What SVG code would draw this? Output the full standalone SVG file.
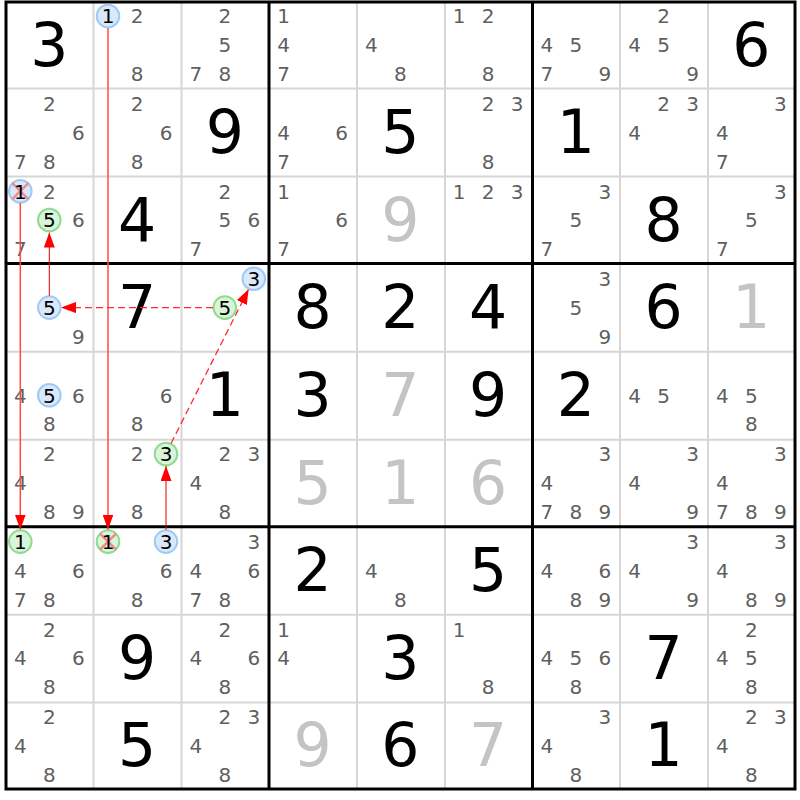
<svg xmlns="http://www.w3.org/2000/svg" width="800" height="800" viewBox="0 0 800 800">
<style>
.bg{fill:#ffffff}
.thin{stroke:#d6d6d6;stroke-width:2;fill:none}
.thick{stroke:#000000;stroke-width:3;fill:none}
text{font-family:"DejaVu Sans","Liberation Sans",sans-serif;text-anchor:middle}
.c{font-size:20px;fill:#5f5f5f}
.cc{font-size:20px;fill:#000000}
.g{font-size:60px;fill:#000000}
.s{font-size:60px;fill:#c4c4c4}
.blue{fill:#d9e9fb;stroke:#9fcaf6;stroke-width:2}
.green{fill:#d9f5d9;stroke:#8fdb8f;stroke-width:2}
.x{stroke:#f28a8a;stroke-width:2.5}
.strong{stroke:#ff4a4a;stroke-width:1.5;fill:none}
.strong1{stroke:#e00000;stroke-width:1;fill:none}
.weak{stroke:#ff2a2a;stroke-width:1.3;fill:none;stroke-dasharray:7 4}
</style>
<defs>
<marker id="ah" markerUnits="userSpaceOnUse" markerWidth="15" markerHeight="11" refX="15" refY="5.5" orient="auto">
<path d="M0,0 L15,5.5 L0,11 Z" fill="#ff0000"/>
</marker>
</defs>
<rect class="bg" x="0" y="0" width="800" height="800"/>
<g id="grid">
<path class="thin" d="M93.5,2V789 M181.5,2V789 M357,2V789 M445,2V789 M620,2V789 M708,2V789 M6,88.5H795 M6,176.5H795 M6,351.8H795 M6,439.8H795 M6,614.8H795 M6,702.5H795"/>
<path class="thick" d="M269,2V789 M532.5,2V789 M6,263.5H795 M6,526.8H795"/>
<rect class="thick" x="6" y="2" width="789" height="787"/>
</g>
<g id="r1c1"><text class="g" x="49.3" y="65.6">3</text></g>
<g id="r1c2"><circle class="blue" cx="108" cy="16" r="11.3"/><text class="cc" x="108" y="23.3">1</text><text class="c" x="137" y="23.3">2</text><text class="c" x="137" y="80.9">8</text></g>
<g id="r1c3"><text class="c" x="224.8" y="23.3">2</text><text class="c" x="224.8" y="52.1">5</text><text class="c" x="195.8" y="80.9">7</text><text class="c" x="224.8" y="80.9">8</text></g>
<g id="r1c4"><text class="c" x="283.5" y="23.3">1</text><text class="c" x="283.5" y="52.1">4</text><text class="c" x="283.5" y="80.9">7</text></g>
<g id="r1c5"><text class="c" x="371.3" y="52.1">4</text><text class="c" x="400.3" y="80.9">8</text></g>
<g id="r1c6"><text class="c" x="459" y="23.3">1</text><text class="c" x="488" y="23.3">2</text><text class="c" x="488" y="80.9">8</text></g>
<g id="r1c7"><text class="c" x="546.8" y="52.1">4</text><text class="c" x="575.8" y="52.1">5</text><text class="c" x="546.8" y="80.9">7</text><text class="c" x="604.8" y="80.9">9</text></g>
<g id="r1c8"><text class="c" x="663.5" y="23.3">2</text><text class="c" x="634.5" y="52.1">4</text><text class="c" x="663.5" y="52.1">5</text><text class="c" x="692.5" y="80.9">9</text></g>
<g id="r1c9"><text class="g" x="751.3" y="65.6">6</text></g>

<g id="r2c1"><text class="c" x="49.3" y="110.9">2</text><text class="c" x="78.3" y="139.7">6</text><text class="c" x="20.3" y="168.5">7</text><text class="c" x="49.3" y="168.5">8</text></g>
<g id="r2c2"><text class="c" x="137" y="110.9">2</text><text class="c" x="166" y="139.7">6</text><text class="c" x="137" y="168.5">8</text></g>
<g id="r2c3"><text class="g" x="224.8" y="153.2">9</text></g>
<g id="r2c4"><text class="c" x="283.5" y="139.7">4</text><text class="c" x="341.5" y="139.7">6</text><text class="c" x="283.5" y="168.5">7</text></g>
<g id="r2c5"><text class="g" x="400.3" y="153.2">5</text></g>
<g id="r2c6"><text class="c" x="488" y="110.9">2</text><text class="c" x="517" y="110.9">3</text><text class="c" x="488" y="168.5">8</text></g>
<g id="r2c7"><text class="g" x="575.8" y="153.2">1</text></g>
<g id="r2c8"><text class="c" x="663.5" y="110.9">2</text><text class="c" x="692.5" y="110.9">3</text><text class="c" x="634.5" y="139.7">4</text></g>
<g id="r2c9"><text class="c" x="780.3" y="110.9">3</text><text class="c" x="722.3" y="139.7">4</text><text class="c" x="722.3" y="168.5">7</text></g>

<g id="r3c1"><circle class="blue" cx="20.3" cy="191.2" r="11.3"/><path class="x" d="M12.3,183.2L28.3,199.2M28.3,183.2L12.3,199.2"/><text class="cc" x="20.3" y="198.5">1</text><text class="c" x="49.3" y="198.5">2</text><circle class="green" cx="49.3" cy="220" r="11.3"/><text class="cc" x="49.3" y="227.3">5</text><text class="c" x="78.3" y="227.3">6</text><text class="c" x="20.3" y="256.1">7</text></g>
<g id="r3c2"><text class="g" x="137" y="240.8">4</text></g>
<g id="r3c3"><text class="c" x="224.8" y="198.5">2</text><text class="c" x="224.8" y="227.3">5</text><text class="c" x="253.8" y="227.3">6</text><text class="c" x="195.8" y="256.1">7</text></g>
<g id="r3c4"><text class="c" x="283.5" y="198.5">1</text><text class="c" x="341.5" y="227.3">6</text><text class="c" x="283.5" y="256.1">7</text></g>
<g id="r3c5"><text class="s" x="400.3" y="240.8">9</text></g>
<g id="r3c6"><text class="c" x="459" y="198.5">1</text><text class="c" x="488" y="198.5">2</text><text class="c" x="517" y="198.5">3</text></g>
<g id="r3c7"><text class="c" x="604.8" y="198.5">3</text><text class="c" x="575.8" y="227.3">5</text><text class="c" x="546.8" y="256.1">7</text></g>
<g id="r3c8"><text class="g" x="663.5" y="240.8">8</text></g>
<g id="r3c9"><text class="c" x="780.3" y="198.5">3</text><text class="c" x="751.3" y="227.3">5</text><text class="c" x="722.3" y="256.1">7</text></g>

<g id="r4c1"><circle class="blue" cx="49.3" cy="307.6" r="11.3"/><text class="cc" x="49.3" y="314.9">5</text><text class="c" x="78.3" y="343.7">9</text></g>
<g id="r4c2"><text class="g" x="137" y="328.4">7</text></g>
<g id="r4c3"><circle class="blue" cx="253.8" cy="278.8" r="11.3"/><text class="cc" x="253.8" y="286.1">3</text><circle class="green" cx="224.8" cy="307.6" r="11.3"/><text class="cc" x="224.8" y="314.9">5</text></g>
<g id="r4c4"><text class="g" x="312.5" y="328.4">8</text></g>
<g id="r4c5"><text class="g" x="400.3" y="328.4">2</text></g>
<g id="r4c6"><text class="g" x="488" y="328.4">4</text></g>
<g id="r4c7"><text class="c" x="604.8" y="286.1">3</text><text class="c" x="575.8" y="314.9">5</text><text class="c" x="604.8" y="343.7">9</text></g>
<g id="r4c8"><text class="g" x="663.5" y="328.4">6</text></g>
<g id="r4c9"><text class="s" x="751.3" y="328.4">1</text></g>

<g id="r5c1"><text class="c" x="20.3" y="402.5">4</text><circle class="blue" cx="49.3" cy="395.2" r="11.3"/><text class="cc" x="49.3" y="402.5">5</text><text class="c" x="78.3" y="402.5">6</text><text class="c" x="49.3" y="431.3">8</text></g>
<g id="r5c2"><text class="c" x="166" y="402.5">6</text><text class="c" x="137" y="431.3">8</text></g>
<g id="r5c3"><text class="g" x="224.8" y="416">1</text></g>
<g id="r5c4"><text class="g" x="312.5" y="416">3</text></g>
<g id="r5c5"><text class="s" x="400.3" y="416">7</text></g>
<g id="r5c6"><text class="g" x="488" y="416">9</text></g>
<g id="r5c7"><text class="g" x="575.8" y="416">2</text></g>
<g id="r5c8"><text class="c" x="634.5" y="402.5">4</text><text class="c" x="663.5" y="402.5">5</text></g>
<g id="r5c9"><text class="c" x="722.3" y="402.5">4</text><text class="c" x="751.3" y="402.5">5</text><text class="c" x="751.3" y="431.3">8</text></g>

<g id="r6c1"><text class="c" x="49.3" y="461.3">2</text><text class="c" x="20.3" y="490.1">4</text><text class="c" x="49.3" y="518.9">8</text><text class="c" x="78.3" y="518.9">9</text></g>
<g id="r6c2"><text class="c" x="137" y="461.3">2</text><circle class="green" cx="166" cy="454" r="11.3"/><text class="cc" x="166" y="461.3">3</text><text class="c" x="137" y="518.9">8</text></g>
<g id="r6c3"><text class="c" x="224.8" y="461.3">2</text><text class="c" x="253.8" y="461.3">3</text><text class="c" x="195.8" y="490.1">4</text><text class="c" x="224.8" y="518.9">8</text></g>
<g id="r6c4"><text class="s" x="312.5" y="503.6">5</text></g>
<g id="r6c5"><text class="s" x="400.3" y="503.6">1</text></g>
<g id="r6c6"><text class="s" x="488" y="503.6">6</text></g>
<g id="r6c7"><text class="c" x="604.8" y="461.3">3</text><text class="c" x="546.8" y="490.1">4</text><text class="c" x="546.8" y="518.9">7</text><text class="c" x="575.8" y="518.9">8</text><text class="c" x="604.8" y="518.9">9</text></g>
<g id="r6c8"><text class="c" x="692.5" y="461.3">3</text><text class="c" x="634.5" y="490.1">4</text><text class="c" x="692.5" y="518.9">9</text></g>
<g id="r6c9"><text class="c" x="780.3" y="461.3">3</text><text class="c" x="722.3" y="490.1">4</text><text class="c" x="722.3" y="518.9">7</text><text class="c" x="751.3" y="518.9">8</text><text class="c" x="780.3" y="518.9">9</text></g>

<g id="r7c1"><circle class="green" cx="20.3" cy="541.6" r="11.3"/><text class="cc" x="20.3" y="548.9">1</text><text class="c" x="20.3" y="577.7">4</text><text class="c" x="78.3" y="577.7">6</text><text class="c" x="20.3" y="606.5">7</text><text class="c" x="49.3" y="606.5">8</text></g>
<g id="r7c2"><circle class="green" cx="108" cy="541.6" r="11.3"/><path class="x" d="M100,533.6L116,549.6M116,533.6L100,549.6"/><text class="cc" x="108" y="548.9">1</text><circle class="blue" cx="166" cy="541.6" r="11.3"/><text class="cc" x="166" y="548.9">3</text><text class="c" x="166" y="577.7">6</text><text class="c" x="137" y="606.5">8</text></g>
<g id="r7c3"><text class="c" x="253.8" y="548.9">3</text><text class="c" x="195.8" y="577.7">4</text><text class="c" x="253.8" y="577.7">6</text><text class="c" x="195.8" y="606.5">7</text><text class="c" x="224.8" y="606.5">8</text></g>
<g id="r7c4"><text class="g" x="312.5" y="591.2">2</text></g>
<g id="r7c5"><text class="c" x="371.3" y="577.7">4</text><text class="c" x="400.3" y="606.5">8</text></g>
<g id="r7c6"><text class="g" x="488" y="591.2">5</text></g>
<g id="r7c7"><text class="c" x="546.8" y="577.7">4</text><text class="c" x="604.8" y="577.7">6</text><text class="c" x="575.8" y="606.5">8</text><text class="c" x="604.8" y="606.5">9</text></g>
<g id="r7c8"><text class="c" x="692.5" y="548.9">3</text><text class="c" x="634.5" y="577.7">4</text><text class="c" x="692.5" y="606.5">9</text></g>
<g id="r7c9"><text class="c" x="780.3" y="548.9">3</text><text class="c" x="722.3" y="577.7">4</text><text class="c" x="751.3" y="606.5">8</text><text class="c" x="780.3" y="606.5">9</text></g>

<g id="r8c1"><text class="c" x="49.3" y="636.5">2</text><text class="c" x="20.3" y="665.3">4</text><text class="c" x="78.3" y="665.3">6</text><text class="c" x="49.3" y="694.1">8</text></g>
<g id="r8c2"><text class="g" x="137" y="678.8">9</text></g>
<g id="r8c3"><text class="c" x="224.8" y="636.5">2</text><text class="c" x="195.8" y="665.3">4</text><text class="c" x="253.8" y="665.3">6</text><text class="c" x="224.8" y="694.1">8</text></g>
<g id="r8c4"><text class="c" x="283.5" y="636.5">1</text><text class="c" x="283.5" y="665.3">4</text></g>
<g id="r8c5"><text class="g" x="400.3" y="678.8">3</text></g>
<g id="r8c6"><text class="c" x="459" y="636.5">1</text><text class="c" x="488" y="694.1">8</text></g>
<g id="r8c7"><text class="c" x="546.8" y="665.3">4</text><text class="c" x="575.8" y="665.3">5</text><text class="c" x="604.8" y="665.3">6</text><text class="c" x="575.8" y="694.1">8</text></g>
<g id="r8c8"><text class="g" x="663.5" y="678.8">7</text></g>
<g id="r8c9"><text class="c" x="751.3" y="636.5">2</text><text class="c" x="722.3" y="665.3">4</text><text class="c" x="751.3" y="665.3">5</text><text class="c" x="751.3" y="694.1">8</text></g>

<g id="r9c1"><text class="c" x="49.3" y="724.1">2</text><text class="c" x="20.3" y="752.9">4</text><text class="c" x="49.3" y="781.7">8</text></g>
<g id="r9c2"><text class="g" x="137" y="766.4">5</text></g>
<g id="r9c3"><text class="c" x="224.8" y="724.1">2</text><text class="c" x="253.8" y="724.1">3</text><text class="c" x="195.8" y="752.9">4</text><text class="c" x="224.8" y="781.7">8</text></g>
<g id="r9c4"><text class="s" x="312.5" y="766.4">9</text></g>
<g id="r9c5"><text class="g" x="400.3" y="766.4">6</text></g>
<g id="r9c6"><text class="s" x="488" y="766.4">7</text></g>
<g id="r9c7"><text class="c" x="604.8" y="724.1">3</text><text class="c" x="546.8" y="752.9">4</text><text class="c" x="575.8" y="781.7">8</text></g>
<g id="r9c8"><text class="g" x="663.5" y="766.4">1</text></g>
<g id="r9c9"><text class="c" x="751.3" y="724.1">2</text><text class="c" x="780.3" y="724.1">3</text><text class="c" x="722.3" y="752.9">4</text><text class="c" x="751.3" y="781.7">8</text></g>

<g id="connectors">
<line class="strong" x1="108" y1="28" x2="108" y2="529.5" marker-end="url(#ah)"/>
<line class="strong" x1="20.3" y1="203" x2="20.3" y2="529.5" marker-end="url(#ah)"/>
<line class="strong1" x1="49.3" y1="295.8" x2="49.3" y2="232.5" marker-end="url(#ah)"/>
<line class="weak" x1="213" y1="307.6" x2="61" y2="307.6" marker-end="url(#ah)"/>
<line class="weak" x1="171" y1="443.5" x2="248.6" y2="289.2" marker-end="url(#ah)"/>
<line class="strong1" x1="166" y1="529.8" x2="166" y2="466" marker-end="url(#ah)"/>
</g>
</svg>
